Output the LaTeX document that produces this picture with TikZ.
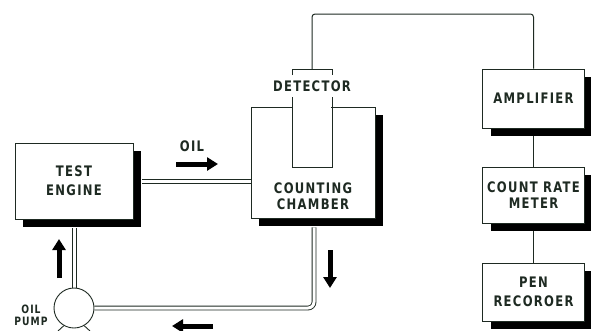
\documentclass[tikz,border=0pt]{standalone}
\usepackage{fontspec}
\setmainfont{DejaVu Sans}[FakeStretch=0.8, LetterSpace=9]
\usetikzlibrary{shadows,arrows.meta}
\definecolor{ink}{HTML}{1E2A22}
\tikzset{
  box/.style={draw=ink, line width=0.9pt, fill=white, align=center, inner sep=0pt,
    font=\fontsize{14.5}{19}\selectfont\bfseries, text=ink,
    drop shadow={fill=black, opacity=1, shadow xshift=8pt, shadow yshift=-8pt}},
  lbl/.style={align=center, text=ink, inner sep=0pt, font=\fontsize{14.5}{15.5}\selectfont\bfseries},
  small/.style={align=center, text=ink, inner sep=0pt, font=\fontsize{11.5}{11.5}\selectfont\bfseries},
  pipeline/.style={draw=ink, line width=0.9pt},
  pipe/.style={draw=ink, line width=4.8pt, postaction={draw=white, line width=3pt}},
  wire/.style={draw=ink, line width=1pt},
  outline/.style={draw=ink, line width=0.9pt},
  flow/.style={line width=5pt, black, -{Triangle[width=13pt,length=11pt]}},
}
\begin{document}
\begin{tikzpicture}[x=1pt,y=-1pt]
\useasboundingbox[fill=white] (0,0) rectangle (591,330);
% boxes
\node[box, minimum width=118pt, minimum height=76pt] (engine) at (74,181) {TEST\\ENGINE};
\node[box, minimum width=124pt, minimum height=111pt] (chamber) at (313,162.5) {};
\node[lbl] (chambertext) at (313,196) {COUNTING\\CHAMBER};
\node[box, minimum width=102pt, minimum height=59pt] (amp) at (533.5,98.5) {AMPLIFIER};
\node[box, minimum width=102pt, minimum height=56pt, font=\fontsize{14.5}{16}\selectfont\bfseries] (crm) at (533.5,195) {COUNT RATE\\METER};
\node[box, minimum width=102pt, minimum height=58pt] (pen) at (533.5,292) {PEN\\RECOROER};
% detector
\coordinate (dl) at (292,107);
\coordinate (dr) at (332,107);
\draw[white, line width=1.8pt] ([xshift=1pt]dl) -- ([xshift=-1pt]dr);
\draw[outline] (292,97) -- (292,167) -- (332,167) -- (332,97);
\draw[outline] (292,75) -- (292,69) -- (332,69) -- (332,75);
\node[lbl] (detector) at (312,86.5) {DETECTOR};
\coordinate (dettop) at (312,69);
\draw[wire, rounded corners=3pt] (dettop) -- (312,14) -- (533.5,14) -- (amp.north);
\draw[wire] ([yshift=-8pt]amp.south) -- (crm.north);
\draw[wire] ([yshift=-8pt]crm.south) -- (pen.north);
% pump
\node[circle, draw=ink, line width=0.9pt, fill=white, minimum size=40pt, inner sep=0pt] (pump) at (74,308) {};
\draw[outline] (pump.-120) -- (58,331);
\draw[outline] (pump.-60) -- (90,331);
\node[small] (pumplabel) at (31,315.5) {OIL\\PUMP};
% pipes
\coordinate (engout) at ([xshift=9pt]engine.east);
\coordinate (engdown) at ([yshift=-9pt]engine.south);
\coordinate (chamout) at ([xshift=1pt,yshift=-9pt]chamber.south);
\draw[pipeline] ([yshift=2pt]engout) -- ([yshift=2pt]engout -| chamber.west);
\draw[pipeline] ([yshift=-2pt]engout) -- ([yshift=-2pt]engout -| chamber.west);
\draw[pipeline] ([xshift=-2pt]engdown) -- ([xshift=-2pt]engdown |- pump.north);
\draw[pipeline] ([xshift=2pt]engdown) -- ([xshift=2pt]engdown |- pump.north);
\draw[pipe, rounded corners=6pt] (pump.east) -- (pump.east -| chamout) -- (chamout);
% flow arrows
\node[lbl] (oil) at (192,146) {OIL};
\draw[flow] (176,164) -- (218,164);
\draw[flow] (59,278) -- (59,239);
\draw[flow] (330,250) -- (330,288);
\draw[flow] (213,326) -- (172,326);
\end{tikzpicture}
\end{document}
